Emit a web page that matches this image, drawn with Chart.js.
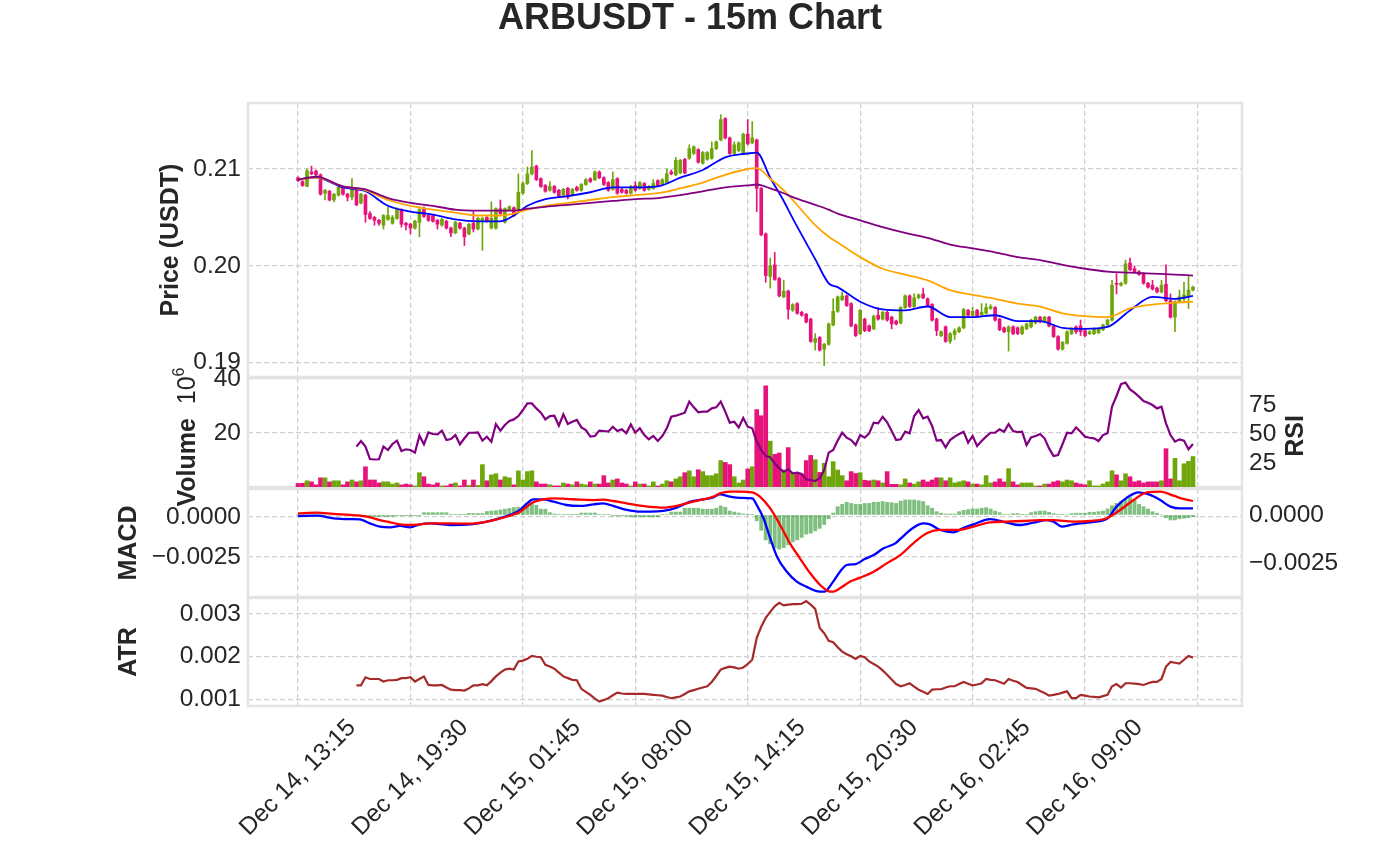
<!DOCTYPE html>
<html>
<head>
<meta charset="utf-8">
<title>ARBUSDT - 15m Chart</title>
<script src="https://cdn.jsdelivr.net/npm/chart.js@4.4.1/dist/chart.umd.min.js"></script>
<style>
  html, body { margin: 0; padding: 0; background: #ffffff; }
  #wrap { position: relative; width: 1380px; height: 862px; overflow: hidden; }
  #wrap canvas { position: absolute; left: 0; top: 0; }
</style>
</head>
<body>
<div id="wrap">
  <canvas id="price" width="1380" height="862"></canvas>
  <canvas id="volume" width="1380" height="862"></canvas>
  <canvas id="macd" width="1380" height="862"></canvas>
  <canvas id="atr" width="1380" height="862"></canvas>
</div>
<script>
// ---------- data (15m candles, index 0 = Dec 14 13:15) ----------
const timeTickIdx = [0, 25, 50, 75, 100, 125, 150, 175, 200]
const timeTickText = ['Dec 14, 13:15', 'Dec 14, 19:30', 'Dec 15, 01:45', 'Dec 15, 08:00',
  'Dec 15, 14:15', 'Dec 15, 20:30', 'Dec 16, 02:45', 'Dec 16, 09:00', '']

const openPx = [
  .2091,.2087,.2082,.2097,.2098,.2094,.2075,.2077,.2068,.2073,
  .2080,.2074,.2071,.2079,.2065,.2073,.2054,.2050,.2047,.2042,
  .2048,.2044,.2049,.2058,.2044,.2043,.2039,.2045,.2059,.2052,
  .2052,.2047,.2042,.2046,.2039,.2034,.2044,.2039,.2033,.2044,
  .2038,.2046,.2050,.2039,.2039,.2059,.2045,.2058,.2060,.2057,
  .2075,.2085,.2095,.2103,.2090,.2083,.2078,.2082,.2078,.2073,
  .2080,.2073,.2081,.2078,.2084,.2090,.2089,.2097,.2091,.2086,
  .2079,.2090,.2079,.2078,.2075,.2083,.2080,.2085,.2079,.2080,
  .2088,.2084,.2086,.2097,.2094,.2096,.2110,.2111,.2116,.2120,
  .2106,.2110,.2111,.2121,.2130,.2152,.2132,.2116,.2119,.2116,
  .2136,.2127,.2130,.2080,.2033,.1989,.2001,.1987,.1968,.1974,
  .1954,.1961,.1952,.1950,.1945,.1921,.1926,.1914,.1919,.1939,
  .1953,.1965,.1969,.1961,.1939,.1930,.1945,.1938,.1935,.1949,
  .1945,.1952,.1947,.1943,.1941,.1957,.1969,.1958,.1967,.1971,
  .1966,.1960,.1945,.1928,.1937,.1922,.1929,.1932,.1936,.1954,
  .1949,.1954,.1949,.1951,.1956,.1957,.1945,.1936,.1932,.1937,
  .1936,.1930,.1935,.1937,.1941,.1947,.1942,.1947,.1938,.1927,
  .1914,.1920,.1930,.1937,.1938,.1933,.1930,.1930,.1931,.1934,
  .1939,.1944,.1982,.1980,.1982,.2003,.1997,.1994,.1992,.1982,
  .1980,.1977,.1973,.1981,.1964,.1947,.1963,.1966,.1969,.1975
]
const highPx = [
  .2092,.2088,.2100,.2103,.2099,.2095,.2079,.2078,.2075,.2083,
  .2082,.2075,.2090,.2080,.2075,.2074,.2056,.2051,.2048,.2053,
  .2061,.2052,.2060,.2059,.2045,.2044,.2047,.2061,.2061,.2053,
  .2053,.2048,.2049,.2047,.2040,.2046,.2045,.2040,.2044,.2056,
  .2050,.2050,.2051,.2066,.2060,.2068,.2060,.2062,.2061,.2095,
  .2087,.2102,.2119,.2104,.2091,.2084,.2087,.2083,.2079,.2080,
  .2081,.2080,.2082,.2085,.2090,.2091,.2098,.2098,.2092,.2087,
  .2097,.2091,.2080,.2079,.2083,.2087,.2087,.2086,.2083,.2089,
  .2089,.2090,.2100,.2099,.2112,.2110,.2111,.2125,.2124,.2121,
  .2118,.2118,.2128,.2129,.2156,.2153,.2133,.2128,.2128,.2137,
  .2151,.2149,.2131,.2081,.2034,.2008,.2014,.1988,.1985,.1975,
  .1961,.1962,.1953,.1951,.1946,.1930,.1927,.1920,.1941,.1966,
  .1969,.1973,.1970,.1962,.1940,.1955,.1946,.1939,.1949,.1957,
  .1953,.1953,.1948,.1944,.1958,.1970,.1970,.1971,.1971,.1977,
  .1967,.1961,.1946,.1933,.1938,.1931,.1935,.1937,.1956,.1955,
  .1957,.1955,.1961,.1961,.1960,.1958,.1946,.1937,.1938,.1938,
  .1937,.1938,.1941,.1945,.1948,.1948,.1948,.1948,.1939,.1928,
  .1922,.1933,.1936,.1938,.1944,.1934,.1933,.1936,.1936,.1940,
  .1945,.1985,.1992,.1983,.2006,.2008,.2000,.1995,.1993,.1983,
  .1985,.1978,.1985,.2001,.1971,.1964,.1975,.1983,.1989,.1979
]
const lowPx = [
  .2087,.2082,.2082,.2094,.2093,.2073,.2068,.2067,.2066,.2072,
  .2073,.2067,.2068,.2062,.2064,.2045,.2048,.2042,.2042,.2038,
  .2047,.2043,.2048,.2040,.2037,.2033,.2038,.2030,.2050,.2046,
  .2045,.2038,.2041,.2038,.2030,.2033,.2038,.2021,.2032,.2035,
  .2037,.2016,.2045,.2038,.2038,.2053,.2044,.2057,.2051,.2056,
  .2074,.2084,.2094,.2088,.2081,.2076,.2077,.2075,.2071,.2072,
  .2069,.2072,.2077,.2077,.2083,.2086,.2088,.2090,.2083,.2077,
  .2078,.2074,.2075,.2074,.2074,.2077,.2079,.2077,.2078,.2079,
  .2082,.2083,.2085,.2094,.2093,.2095,.2095,.2110,.2115,.2106,
  .2105,.2109,.2110,.2120,.2129,.2131,.2115,.2115,.2118,.2115,
  .2125,.2126,.2056,.2031,.1983,.1977,.1985,.1968,.1967,.1945,
  .1953,.1950,.1948,.1941,.1921,.1913,.1912,.1897,.1918,.1938,
  .1952,.1964,.1958,.1937,.1927,.1929,.1932,.1932,.1934,.1944,
  .1944,.1943,.1935,.1939,.1940,.1956,.1957,.1957,.1966,.1966,
  .1958,.1943,.1928,.1927,.1921,.1920,.1924,.1931,.1935,.1948,
  .1948,.1947,.1948,.1950,.1955,.1943,.1933,.1931,.1912,.1929,
  .1929,.1929,.1934,.1936,.1940,.1941,.1941,.1937,.1926,.1913,
  .1913,.1919,.1929,.1930,.1928,.1927,.1929,.1929,.1930,.1933,
  .1938,.1943,.1971,.1979,.1981,.1995,.1993,.1990,.1981,.1977,
  .1975,.1972,.1972,.1963,.1946,.1932,.1962,.1963,.1956,.1974
]
const closePx = [
  .2088,.2083,.2098,.2095,.2094,.2074,.2078,.2068,.2074,.2081,
  .2074,.2071,.2080,.2063,.2074,.2053,.2049,.2047,.2044,.2052,
  .2052,.2050,.2058,.2043,.2042,.2039,.2046,.2058,.2051,.2047,
  .2046,.2043,.2048,.2039,.2034,.2045,.2039,.2030,.2043,.2038,
  .2049,.2049,.2046,.2049,.2059,.2054,.2059,.2061,.2052,.2076,
  .2085,.2095,.2102,.2089,.2082,.2077,.2082,.2076,.2072,.2079,
  .2071,.2079,.2078,.2084,.2089,.2087,.2097,.2091,.2084,.2078,
  .2089,.2075,.2076,.2075,.2082,.2078,.2086,.2078,.2082,.2085,
  .2083,.2089,.2095,.2095,.2109,.2109,.2096,.2121,.2123,.2107,
  .2117,.2117,.2121,.2128,.2151,.2132,.2116,.2125,.2127,.2136,
  .2126,.2132,.2080,.2032,.1990,.2000,.1986,.1969,.1974,.1955,
  .1960,.1951,.1949,.1942,.1922,.1925,.1913,.1919,.1940,.1953,
  .1968,.1969,.1959,.1938,.1928,.1954,.1933,.1933,.1948,.1945,
  .1952,.1944,.1940,.1940,.1957,.1969,.1958,.1967,.1970,.1967,
  .1959,.1944,.1933,.1932,.1922,.1930,.1933,.1936,.1955,.1949,
  .1953,.1948,.1952,.1957,.1958,.1944,.1934,.1932,.1937,.1930,
  .1930,.1937,.1940,.1944,.1947,.1942,.1947,.1938,.1927,.1914,
  .1921,.1932,.1935,.1932,.1932,.1928,.1932,.1935,.1935,.1939,
  .1944,.1980,.1981,.1982,.2002,.1996,.1994,.1991,.1982,.1978,
  .1976,.1973,.1980,.1964,.1947,.1963,.1968,.1970,.1975,.1978
]

// moving averages, read at these candle positions
const maIdx = [0,4,10,15,20,25,30,35,40,45,48,51,55,60,65,70,75,80,85,90,95,100,102,105,108,
  110,115,118,120,125,130,135,140,145,150,155,160,165,170,175,180,185,190,195,199]
const maFast = [.2089,.2091,.2081,.2077,.2062,.2056,.2053,.2048,.2046,.2046,.2052,.2062,.2069,
  .2072,.2076,.2081,.2081,.2082,.2091,.2099,.2112,.2116,.2117,.2091,.2067,.2049,.2007,.1982,
  .1978,.1963,.1955,.1954,.1958,.1947,.1947,.1949,.1943,.1943,.1936,.1935,.1937,.1954,.1968,
  .1966,.1969]
const maMid = [.2089,.2091,.2082,.2078,.2068,.2062,.2058,.2055,.2052,.2052,.2054,.2058,.2062,
  .2065,.2068,.2071,.2073,.2075,.2080,.2086,.2094,.2100,.2101,.2090,.2078,.2068,.2042,.2030,
  .2024,.2009,.1997,.1991,.1985,.1975,.1970,.1966,.1961,.1958,.1951,.1948,.1947,.1956,.1960,
  .1962,.1963]
const maSlow = [.2089,.2092,.2082,.2079,.2070,.2065,.2062,.2058,.2057,.2057,.2057,.2059,.2061,
  .2063,.2065,.2067,.2069,.2070,.2073,.2077,.2081,.2083,.2084,.2080,.2075,.2071,.2063,.2058,
  .2054,.2047,.2040,.2034,.2029,.2022,.2018,.2014,.2009,.2006,.2001,.1997,.1994,.1993,.1992,
  .1991,.1990]

// volume in millions
const volumeM = [
  1.3,1.4,2.3,1.9,0.8,3.4,3.4,1.9,2.3,2.3,
  0.8,1.9,2.6,1.9,2.3,7.5,2.6,2.6,1.5,1.9,
  1.9,1.1,1.5,0.8,1.1,0.8,0.4,5.3,3.8,1.1,
  0.8,1.5,0.4,0.4,1.1,1.5,0.4,2.6,0.6,2.6,
  0.6,8.3,2.3,4.5,4.9,2.6,3.8,3.4,0.8,6.0,
  2.6,5.7,6.0,1.9,1.1,1.1,0.8,0.4,0.4,1.5,
  1.1,0.8,1.9,1.1,0.8,1.9,1.1,1.1,4.2,1.5,
  2.6,3.0,1.5,1.1,0.4,1.9,1.1,1.1,0.4,1.9,
  0.4,1.1,2.3,1.9,3.0,3.8,5.3,6.0,3.8,6.4,
  5.7,4.2,4.2,4.9,9.8,9.1,8.3,3.8,1.5,2.6,
  6.7,7.5,28.7,26.4,37.5,17.0,12.1,12.6,6.3,14.6,
  5.4,5.0,4.8,9.8,11.7,10.1,5.4,8.8,3.8,9.4,
  6.3,4.2,2.3,5.7,5.0,5.3,2.5,2.3,2.6,2.3,
  1.5,5.7,1.0,1.0,0.8,3.0,1.5,1.1,1.9,2.6,
  1.9,2.6,3.4,3.4,2.3,3.4,1.5,1.9,2.3,1.9,
  1.1,1.1,0.8,4.2,1.5,1.9,3.0,1.9,6.8,1.9,
  0.8,1.5,1.5,1.5,0.4,0.4,1.1,1.1,1.9,2.3,
  1.9,2.6,2.3,1.5,1.1,0.8,2.3,0.4,0.4,1.1,
  1.9,6.0,4.5,2.3,4.9,3.8,1.9,2.3,1.5,1.9,
  1.9,1.9,2.3,14.2,3.0,10.6,2.3,8.6,9.5,11.3
]

const rsi = [
  null,null,null,null,null,null,null,null,null,null,
  null,null,null,39.1,44.0,39.1,28.4,28.0,28.2,39.1,
  36.2,41.4,44.3,35.3,36.8,36.2,33.9,48.6,41.1,51.4,
  50.0,49.7,52.9,44.8,45.7,49.1,41.1,46.3,51.1,51.1,
  51.4,44.3,47.7,43.4,58.6,52.9,57.8,61.2,62.6,65.5,
  70.7,76.4,76.4,72.1,68.4,62.6,65.5,65.8,57.2,67.0,
  58.6,60.6,62.1,55.7,53.4,47.7,48.3,52.9,52.6,52.0,
  56.3,52.6,54.0,50.6,58.3,51.1,54.9,49.1,45.4,48.3,
  44.0,48.3,54.9,64.9,65.8,67.0,68.4,77.9,73.0,68.7,
  69.3,69.3,72.1,73.0,77.9,69.3,59.8,60.6,55.7,63.8,
  56.3,54.9,43.4,36.2,31.0,29.9,24.7,20.4,17.5,19.5,
  16.1,16.7,15.5,10.9,10.3,9.5,11.8,19.0,33.9,36.2,
  44.3,51.1,46.8,44.8,40.5,49.1,46.8,50.6,59.8,59.2,
  64.9,60.1,52.6,44.8,45.4,52.0,50.6,65.5,70.7,63.5,
  64.9,56.9,44.3,44.8,38.5,44.8,47.7,50.0,52.0,42.5,
  48.3,39.7,44.0,47.7,51.1,51.1,54.0,52.0,58.6,52.6,
  51.7,52.0,40.5,47.1,48.3,50.0,46.3,37.6,31.0,31.9,
  41.4,51.1,50.6,55.7,52.0,47.7,46.8,46.3,44.0,49.1,
  50.6,73.6,82.8,93.1,94.3,88.5,85.6,82.2,78.4,77.0,
  75.0,72.1,73.6,59.2,49.1,43.4,45.4,44.3,36.8,41.4
]

// MACD and signal, read at these (fractional) candle positions
const macdIdx = [0,4.2,7.9,11.6,13.8,16,18.2,20.5,22.7,24.9,27.1,29.4,33.8,38.3,41.2,44.2,47.1,
  49.4,50.9,52.3,54.6,56.8,59.7,62.7,65.7,67.9,70.1,73.1,76.1,78.3,81.2,84.2,87.2,90.1,92.4,
  93.8,96.1,98.3,101,102,103.5,105,106.5,108.7,110.9,113,115.3,117,119,120.5,122,124,126,128,
  130.2,132.8,134.6,136.8,139,140.5,142.8,145.7,148,150.2,153.9,157.6,160.5,163.5,166.5,168,
  169.8,172.4,176.1,179.8,182,184.3,186.9,189.5,191.7,194,196.1,199]
const macdVals = [0.00006,0.00008,-0.00008,-0.00013,-0.00015,-0.0004,-0.0006,-0.00065,-0.00056,
  -0.00065,-0.00046,-0.0004,-0.0005,-0.00046,-0.00033,-0.00013,0.00013,0.00044,0.00085,0.0011,
  0.0011,0.00096,0.00075,0.00069,0.00079,0.00085,0.00069,0.00044,0.00033,0.00033,0.00038,
  0.00058,0.00096,0.0011,0.00123,0.00142,0.00127,0.00119,0.00117,0.00075,-0.00008,-0.00133,
  -0.00248,-0.00342,-0.00404,-0.00435,-0.00463,-0.00467,-0.00404,-0.00342,-0.003,-0.00294,
  -0.00263,-0.00238,-0.00196,-0.00165,-0.00119,-0.00067,-0.0004,-0.00046,-0.00081,-0.00096,
  -0.00067,-0.00046,-0.00013,-0.00035,-0.0005,-0.00035,-0.00019,-0.00029,-0.0006,-0.00046,
  -0.00033,-0.00013,0.00065,0.00121,0.00154,0.00138,0.00106,0.00065,0.00054,0.00054]
const signalIdx = [0,4.2,7.9,11.6,13.8,16,18.2,20.5,22.7,24.9,27.1,29.4,33.8,38.3,41.2,44.2,
  47.1,49.4,50.9,52.3,54.6,56.8,59.7,62.7,65.7,67.9,70.1,73.1,76.1,78.3,81.2,84.2,87.2,90.1,
  92.4,93.8,96.1,98.3,101,102.7,105,107.2,109.4,111.6,113.9,116.1,117.9,119,120.5,122.7,125,
  128,130.9,133.9,136.8,139.8,142.8,146.5,150.2,153.9,157.6,161.3,165,168,172.4,176.1,179.8,
  182.8,185.8,188.8,191.7,194.7,196.9,199]
const signalVals = [0.00023,0.00027,0.00019,0.00013,0.00008,-0.00002,-0.00019,-0.00033,
  -0.00046,-0.0005,-0.00046,-0.0004,-0.0004,-0.00042,-0.00033,-0.00015,0.00008,0.00033,
  0.00065,0.00092,0.0011,0.00117,0.00113,0.00108,0.00106,0.00108,0.001,0.00085,0.00071,
  0.00063,0.00058,0.00069,0.00092,0.0011,0.00127,0.00148,0.00158,0.00158,0.00154,0.00127,
  0.00054,-0.0005,-0.00165,-0.00258,-0.00352,-0.00425,-0.00463,-0.00467,-0.00446,-0.00404,
  -0.00379,-0.00342,-0.0029,-0.00238,-0.00165,-0.00102,-0.00081,-0.00081,-0.0006,-0.00033,
  -0.00029,-0.00025,-0.00019,-0.00019,-0.00029,-0.00025,-0.00008,0.00044,0.00106,0.00154,
  0.00158,0.00133,0.00113,0.001]

const macdHist = [
  0,0,0,0,0,0,0,0,0,0,
  0,0,0,0,-0.00008,-0.00008,-0.00008,-0.00008,-0.00008,-0.00008,
  -0.00008,-0.00008,-0.00004,-0.00004,-0.00004,-0.00004,-0.00004,-0.00004,0.00012,0.00012,
  0.00012,0.00012,0.00012,0.00012,0.00002,0.00002,0.00002,0.00002,0.00008,0.00008,
  0.00008,0.00008,0.00018,0.0002,0.00022,0.00026,0.0003,0.00034,0.00038,0.0004,
  0.00043,0.0006,0.00065,0.0005,0.0003,0.0003,0.00012,0.00005,0.00003,0.00003,
  0.00003,0.00002,0.00002,0.0001,0.0001,0.0001,0.0001,0.00003,0.00003,0.00003,
  -0.00005,-0.00005,-0.00005,-0.00005,-0.0001,-0.0001,-0.0001,-0.0001,-0.0001,-0.0001,
  -0.0001,0.00003,0.00003,0.00015,0.00015,0.00015,0.00035,0.00035,0.00035,0.00035,
  0.0003,0.0003,0.0003,0.00035,0.00047,0.0004,0.0002,0.00015,0.0001,0.00005,
  0.00002,0.00002,-0.0003,-0.0008,-0.0013,-0.0015,-0.0017,-0.00178,-0.0017,-0.00155,
  -0.0014,-0.0013,-0.00117,-0.001,-0.00095,-0.00083,-0.0007,-0.0005,-0.0002,0.0001,
  0.00043,0.00055,0.00066,0.0006,0.00055,0.00055,0.0006,0.0006,0.00066,0.00066,
  0.0007,0.00066,0.00064,0.0006,0.00072,0.00078,0.00078,0.00078,0.00074,0.0007,
  0.00048,0.00035,0.00017,0.00009,0.00005,0.00005,0.00005,0.00017,0.00024,0.00028,
  0.00031,0.00031,0.00035,0.00038,0.00031,0.0002,0.00012,0.00003,0.00003,0.00007,
  0.00007,0.00003,0.00003,0.00012,0.00017,0.0002,0.0002,0.00014,0.00007,0.00003,
  0.00002,0,0.00007,0.00009,0.00009,0.00009,0.00014,0.00014,0.00017,0.0002,
  0.00031,0.00048,0.0006,0.0007,0.00083,0.0009,0.00078,0.00055,0.00043,0.00031,
  0.00017,0.00009,0,-0.00014,-0.00026,-0.00026,-0.0002,-0.00017,-0.00014,-0.00009
]

const atr = [
  null,null,null,null,null,null,null,null,null,null,
  null,null,null,.00133,.00133,.00152,.00148,.00148,.00148,.00142,
  .00145,.00145,.00146,.0015,.0015,.00152,.00142,.00148,.00154,.00134,
  .00133,.00133,.00134,.00128,.00123,.00122,.00122,.00121,.00126,.00133,
  .00133,.00136,.00133,.00143,.00154,.00163,.0017,.00172,.0017,.00189,
  .00191,.00195,.00202,.002,.00199,.00181,.00177,.00172,.00163,.00154,
  .0015,.00146,.00145,.00125,.00118,.00111,.00102,.00095,.00099,.00103,
  .0011,.00116,.00114,.00113,.00113,.00113,.00113,.00113,.00112,.00111,
  .0011,.00109,.00106,.00103,.00105,.00107,.00113,.00119,.00122,.00125,
  .00128,.00131,.00141,.00155,.0017,.00174,.00177,.00175,.00172,.00175,
  .00183,.00193,.00244,.0027,.00291,.00305,.00318,.00326,.0032,.00322,
  .00323,.00323,.00324,.0033,.00322,.00312,.00267,.00255,.00237,.00234,
  .00222,.00212,.00206,.00201,.00195,.00202,.00199,.00189,.00183,.00177,
  .00168,.00158,.00147,.00136,.00131,.00134,.00138,.0013,.00123,.00118,
  .00113,.00123,.00124,.00124,.00128,.00131,.00131,.00136,.00141,.00137,
  .00133,.00135,.00138,.00148,.00146,.00145,.00141,.00137,.00148,.00144,
  .00141,.00134,.00127,.00126,.00125,.0012,.00115,.00109,.00111,.00113,
  .00116,.00119,.00103,.00103,.00111,.00109,.00107,.00106,.00105,.00108,
  .00111,.00131,.00136,.00128,.00138,.00138,.00137,.00136,.00134,.00138,
  .00141,.00141,.00148,.00177,.00188,.00186,.00184,.00193,.00202,.00198
]

// axis tick values
const priceTicks = [0.19, 0.20, 0.21]
const volumeTicks = [20, 40]
const rsiTicks = [25, 50, 75]
const macdTicks = [-0.0025, 0]
const histTicks = [-0.0025, 0]
const atrTicks = [0.001, 0.002, 0.003]

// ---------- look ----------
const UP = '#6fa60b'
const DOWN = '#e5137a'
const INK = '#262626'
const GRID = '#d0d0d0'
const FRAME = '#e3e3e3'
const FONT = '"Liberation Sans", Arial, Helvetica, sans-serif'
const TICK_SIZE = 24.5
const LABEL_SIZE = 25
const W = 1380, H = 862
const AREA = { left: 248, right: 1242 }
const X_MIN = -11.12, X_MAX = 209.9

Chart.defaults.font.family = FONT
Chart.defaults.font.size = TICK_SIZE
Chart.defaults.color = INK

const candleColor = closePx.map((c, i) => (c >= openPx[i] ? UP : DOWN))
const pts = (xs, ys) => xs.map((x, k) => ({ x, y: ys[k] }))
const byIndex = ys => ys.map((y, i) => ({ x: i, y }))

const minus = v => (v < 0 ? '\u2212' : '') + Math.abs(v).toFixed(4)

function xAxis() {
  return {
    type: 'linear', min: X_MIN, max: X_MAX, offset: false,
    afterBuildTicks: s => { s.ticks = timeTickIdx.map(v => ({ value: v })) },
    afterFit: s => { s.height = 0 },
    grid: { color: GRID, lineWidth: 1.3, offset: false, drawTicks: false },
    border: { display: false, dash: [5, 3] },
    ticks: { display: false }
  }
}

function leftAxis(min, max, ticks, fmt) {
  return {
    position: 'left', min, max,
    afterBuildTicks: s => { s.ticks = ticks.map(v => ({ value: v })) },
    afterFit: s => { s.width = AREA.left },
    grid: { color: GRID, lineWidth: 1.3, drawTicks: false },
    border: { display: false, dash: [5, 3] },
    ticks: { padding: 7, callback: fmt }
  }
}

// the scale box must be as wide as the labels, Chart.js clips tick labels to it
function rightAxis(min, max, ticks, fmt) {
  return {
    position: 'right', min, max,
    afterBuildTicks: s => { s.ticks = ticks.map(v => ({ value: v })) },
    afterFit: s => { s.width = W - AREA.right },
    grid: { drawOnChartArea: false, drawTicks: false },
    border: { display: false },
    ticks: { padding: 7, callback: fmt }
  }
}

// light frame round each panel
const framePlugin = {
  id: 'panelFrame',
  beforeDatasetsDraw(chart) {
    const { ctx, chartArea: a } = chart
    ctx.save()
    ctx.strokeStyle = FRAME
    ctx.lineWidth = 2.5
    ctx.strokeRect(a.left, a.top, a.right - a.left, a.bottom - a.top)
    ctx.restore()
  }
}

// date labels under the bottom panel, rotated 45deg and centred on their tick
const timeLabelPlugin = {
  id: 'timeLabels',
  afterDraw(chart) {
    const { ctx, chartArea } = chart
    const xs = chart.scales.x
    const lineH = TICK_SIZE * 1.15
    ctx.save()
    ctx.font = TICK_SIZE + 'px ' + FONT
    ctx.fillStyle = INK
    ctx.textAlign = 'center'
    ctx.textBaseline = 'middle'
    timeTickIdx.forEach((v, k) => {
      const text = timeTickText[k]
      if (!text) return
      const half = (ctx.measureText(text).width + lineH) / (2 * Math.SQRT2)
      ctx.save()
      ctx.translate(xs.getPixelForValue(v), chartArea.bottom + 8 + half)
      ctx.rotate(-Math.PI / 4)
      ctx.fillText(text, 0, 0)
      ctx.restore()
    })
    ctx.restore()
  }
}

// titles and axis labels drawn as canvas text
function textLayer(items) {
  return {
    id: 'textLayer',
    afterDraw(chart) {
      const ctx = chart.ctx
      items.forEach(it => {
        ctx.save()
        ctx.translate(it.x, it.y)
        if (it.rotate) ctx.rotate(-Math.PI / 2)
        ctx.fillStyle = INK
        ctx.textBaseline = it.baseline || 'middle'
        ctx.textAlign = 'left'
        const parts = it.parts.map(p => Object.assign({}, p, {
          font: (p.weight || 'bold') + ' ' + (p.size || it.size) + 'px ' + FONT
        }))
        let total = 0
        parts.forEach(p => { ctx.font = p.font; p.w = ctx.measureText(p.text).width; total += p.w })
        let cx = -total / 2
        parts.forEach(p => { ctx.font = p.font; ctx.fillText(p.text, cx, p.dy || 0); cx += p.w })
        ctx.restore()
      })
    }
  }
}

function baseOptions(top, bottom, hasRightAxis) {
  return {
    responsive: false, animation: false, events: [],
    layout: { padding: { left: 0, top, right: hasRightAxis ? 0 : W - AREA.right, bottom: H - bottom } },
    plugins: { legend: { display: false }, tooltip: { enabled: false } }
  }
}

function lineSet(data, color, width, axis, smooth) {
  return {
    type: 'line', data, borderColor: color, borderWidth: width, pointRadius: 0,
    yAxisID: axis || 'y', order: 0, cubicInterpolationMode: smooth ? 'monotone' : 'default'
  }
}

// ---------- price panel ----------
new Chart(document.getElementById('price'), {
  type: 'bar',
  data: {
    datasets: [
      {
        data: closePx.map((c, i) => ({ x: i, y: [lowPx[i], highPx[i]] })),
        backgroundColor: candleColor, barThickness: 1, grouped: false, order: 2
      },
      {
        data: closePx.map((c, i) => ({ x: i, y: [openPx[i], c] })),
        backgroundColor: candleColor, barThickness: 3, minBarLength: 1, grouped: false, order: 1
      },
      lineSet(pts(maIdx, maSlow), '#800080', 1.8, 'y', true),
      lineSet(pts(maIdx, maMid), '#ffa500', 1.8, 'y', true),
      lineSet(pts(maIdx, maFast), '#0000ff', 1.8, 'y', true)
    ]
  },
  options: Object.assign(baseOptions(103, 377, false), {
    scales: {
      x: xAxis(),
      y: leftAxis(0.188523, 0.216815, priceTicks, v => v.toFixed(2))
    }
  }),
  plugins: [framePlugin, textLayer([
    { x: 690, y: 29, size: 36, baseline: 'alphabetic', parts: [{ text: 'ARBUSDT - 15m Chart' }] },
    { x: 171, y: 240, size: LABEL_SIZE, rotate: true, parts: [{ text: 'Price (USDT)' }] }
  ])]
})

// ---------- volume + RSI panel ----------
new Chart(document.getElementById('volume'), {
  type: 'bar',
  data: {
    datasets: [
      { data: byIndex(volumeM), backgroundColor: candleColor, barThickness: 4, grouped: false, yAxisID: 'y', order: 1 },
      lineSet(byIndex(rsi), '#800080', 2.2, 'y2', false)
    ]
  },
  options: Object.assign(baseOptions(378, 487, true), {
    scales: {
      x: xAxis(),
      y: leftAxis(0, 40.4, volumeTicks, v => String(v)),
      y2: rightAxis(4.3, 98.3, rsiTicks, v => String(v))
    }
  }),
  plugins: [framePlugin, textLayer([
    { x: 188, y: 437, size: LABEL_SIZE, rotate: true, parts: [
      { text: 'Volume' }, { text: '  10', weight: 'normal' }, { text: '6', weight: 'normal', size: 16, dy: -8 }
    ] },
    { x: 1296, y: 436, size: LABEL_SIZE, rotate: true, parts: [{ text: 'RSI' }] }
  ])]
})

// ---------- MACD panel ----------
new Chart(document.getElementById('macd'), {
  type: 'bar',
  data: {
    datasets: [
      { data: byIndex(macdHist), backgroundColor: 'rgba(0,128,0,0.5)', barThickness: 3.2, grouped: false, yAxisID: 'y2', order: 1 },
      lineSet(pts(signalIdx, signalVals), '#ff0000', 2.3, 'y', true),
      lineSet(pts(macdIdx, macdVals), '#0000ff', 2.3, 'y', true)
    ]
  },
  options: Object.assign(baseOptions(489, 597, true), {
    scales: {
      x: xAxis(),
      y: leftAxis(-0.005, 0.00175, macdTicks, minus),
      y2: rightAxis(-0.00427, 0.00135, histTicks, minus)
    }
  }),
  plugins: [framePlugin, textLayer([
    { x: 129, y: 543, size: LABEL_SIZE, rotate: true, parts: [{ text: 'MACD' }] }
  ])]
})

// ---------- ATR panel (carries the time axis) ----------
new Chart(document.getElementById('atr'), {
  type: 'line',
  data: { datasets: [lineSet(byIndex(atr), '#a52a2a', 2.2, 'y', false)] },
  options: Object.assign(baseOptions(598, 706, false), {
    scales: {
      x: xAxis(),
      y: leftAxis(0.000848, 0.003374, atrTicks, v => v.toFixed(3))
    }
  }),
  plugins: [framePlugin, timeLabelPlugin, textLayer([
    { x: 129, y: 652, size: LABEL_SIZE, rotate: true, parts: [{ text: 'ATR' }] }
  ])]
})
</script>
</body>
</html>
